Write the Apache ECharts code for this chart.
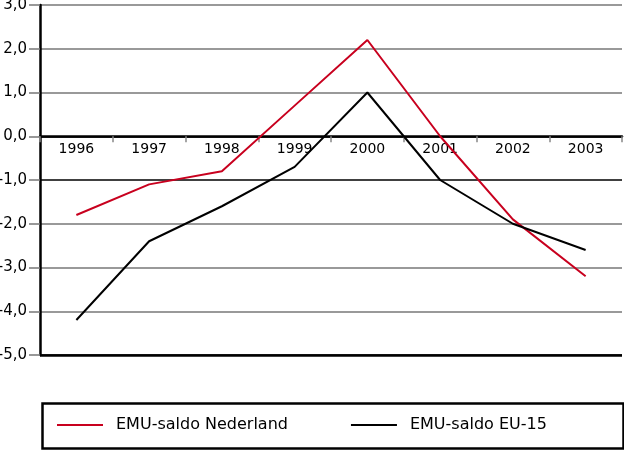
<!DOCTYPE html>
<html><head><meta charset="utf-8">
<script src="https://cdn.jsdelivr.net/npm/echarts@6/dist/echarts.min.js"></script>
<style>html,body{margin:0;padding:0;background:#fff}#c{width:624px;height:450px}</style>
</head><body><div id="c"></div>
<script>
var years = ['1996','1997','1998','1999','2000','2001','2002','2003'];
var nederland = [-1.8, -1.1, -0.8, 0.7, 2.2, 0.0, -1.9, -3.2];
var eu15 = [-4.2, -2.4, -1.6, -0.7, 1.0, -1.0, -2.0, -2.6];
var seriesNames = ['EMU-saldo Nederland', 'EMU-saldo EU-15'];
var FONT = 'DejaVu Sans, sans-serif';
var chart = echarts.init(document.getElementById('c'), null, {renderer:'canvas'});
chart.setOption({
  animation: false,
  backgroundColor: '#fff',
  grid: {left: 40, right: 2, top: 5, bottom: 95, containLabel: false, outerBoundsMode: 'none'},
  xAxis: {
    type: 'category', data: years, boundaryGap: true,
    axisLine: {onZero: true, lineStyle: {color: '#000', width: 2.5}},
    axisTick: {show: true, length: 6, lineStyle: {color: '#888', width: 1.5}},
    axisLabel: {color: '#000', fontFamily: FONT, fontSize: 14, margin: -213},
    splitLine: {show: false}
  },
  yAxis: {
    type: 'value', min: -5, max: 3, interval: 1,
    axisLine: {show: true, onZero: false, lineStyle: {color: '#000', width: 2.5}},
    axisTick: {show: true, length: 11, lineStyle: {color: '#777', width: 1.5}},
    axisLabel: {color: '#000', fontFamily: FONT, fontSize: 15, margin: 13,
      formatter: function(v){ return v.toFixed(1).replace('.', ','); }},
    splitLine: {show: true, lineStyle: {color: ['#000','#777','#777','#777','#000','#000','#777','#777','#777'], width: 1.5}}
  },
  legend: {
    left: 57, top: 417, padding: 0, icon: 'rect', itemWidth: 46, itemHeight: 2, itemGap: 63,
    textStyle: {color: '#000', fontFamily: FONT, fontSize: 16, padding: [0, 0, 0, 8]},
    data: seriesNames
  },
  graphic: [{
    type: 'rect', left: 40, top: 401, silent: true,
    shape: {width: 581, height: 45},
    style: {fill: 'none', stroke: '#000', lineWidth: 2.5}
  }],
  series: [{
    name: seriesNames[0], type: 'line', data: nederland, symbol: 'none',
    lineStyle: {color: '#c8001e', width: 2}, itemStyle: {color: '#c8001e'}, z: 3,
    markLine: {silent: true, symbol: 'none', label: {show: false},
      lineStyle: {color: '#000', width: 2.5, type: 'solid'}, data: [{yAxis: -5}]}
  }, {
    name: seriesNames[1], type: 'line', data: eu15, symbol: 'none',
    lineStyle: {color: '#000', width: 2}, itemStyle: {color: '#000'}, z: 4
  }]
});
</script></body></html>
